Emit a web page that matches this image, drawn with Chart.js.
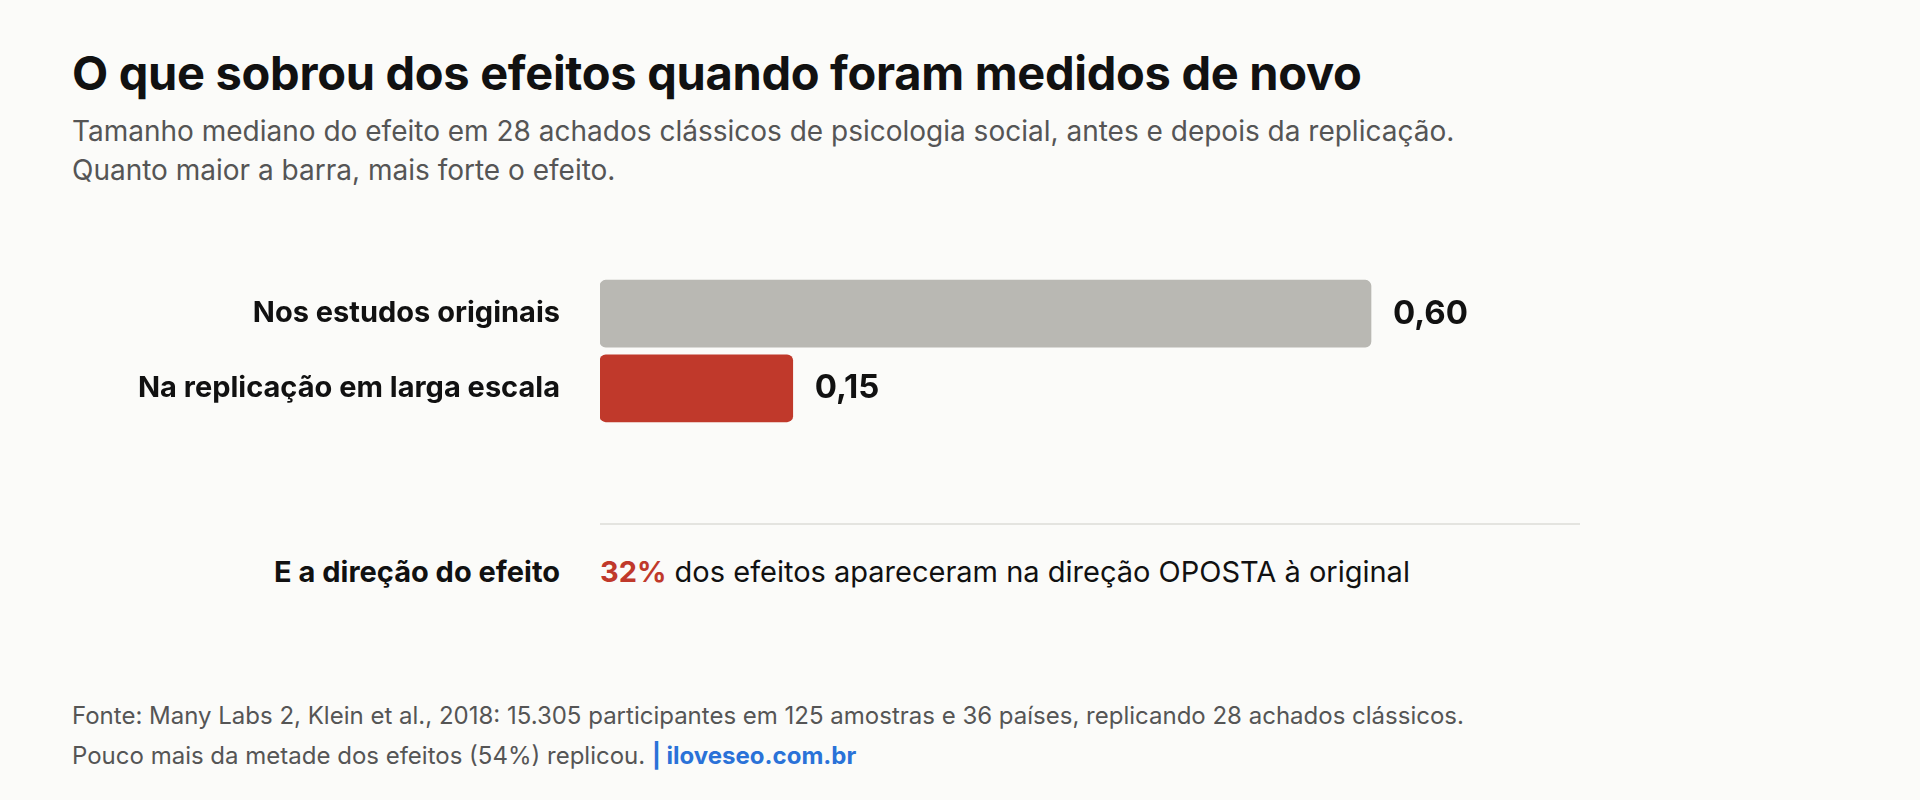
<!DOCTYPE html>
<html lang="pt-BR">
<head>
  <meta charset="UTF-8" />
  <title>O que sobrou dos efeitos</title>
  <script src="https://cdn.jsdelivr.net/npm/chart.js"></script>
  <style>
    body {
      margin: 0;
      background-color: #fbfbf9;
      font-family: Inter, sans-serif;
      width: 1920px;
      height: 800px;
      position: relative;
      overflow: hidden;
    }
    h1 {
      position: absolute;
      left: 72px;
      top: 44px;
      margin: 0;
      font-size: 47px;
      font-weight: 700;
      color: #111;
      letter-spacing: -0.3px;
    }
    .sub {
      position: absolute;
      left: 72px;
      top: 112px;
      font-size: 28px;
      line-height: 39px;
      color: #555;
    }
    #wrap {
      position: absolute;
      left: 0;
      top: 227px;
      width: 1628px;
      height: 248px;
    }
    .sep {
      position: absolute;
      left: 600px;
      top: 523px;
      width: 980px;
      border-top: 2px solid #e4e4e0;
    }
    .dir-label {
      position: absolute;
      right: calc(1920px - 560px);
      top: 554px;
      font-size: 29px;
      font-weight: 700;
      color: #111;
    }
    .dir-text {
      position: absolute;
      left: 600px;
      top: 554px;
      font-size: 29px;
      color: #111;
    }
    .dir-text b { color: #c0392b; }
    .foot {
      position: absolute;
      left: 72px;
      top: 696px;
      font-size: 24px;
      line-height: 40px;
      color: #555;
    }
    .foot b { color: #2a72d8; }
  </style>
</head>
<body>
  <h1>O que sobrou dos efeitos quando foram medidos de novo</h1>
  <div class="sub">Tamanho mediano do efeito em 28 achados clássicos de psicologia social, antes e depois da replicação.<br>Quanto maior a barra, mais forte o efeito.</div>
  <div id="wrap"><canvas id="chart"></canvas></div>
  <div class="sep"></div>
  <div class="dir-label">E a direção do efeito</div>
  <div class="dir-text"><b>32%</b> dos efeitos apareceram na direção OPOSTA à original</div>
  <div class="foot">Fonte: Many Labs 2, Klein et al., 2018: 15.305 participantes em 125 amostras e 36 países, replicando 28 achados clássicos.<br>Pouco mais da metade dos efeitos (54%) replicou. <b>| iloveseo.com.br</b></div>

  <script>
    const categorias = ['Nos estudos originais', 'Na replicação em larga escala'];
    const efeitos = [0.60, 0.15];
    const cores = ['#b9b8b3', '#c0392b'];

    const rotulosValor = {
      id: 'rotulosValor',
      afterDatasetsDraw(chart) {
        const ctx = chart.ctx;
        const meta = chart.getDatasetMeta(0);
        ctx.save();
        ctx.font = '700 33px Inter, sans-serif';
        ctx.fillStyle = '#111';
        ctx.textBaseline = 'middle';
        meta.data.forEach((bar, i) => {
          ctx.fillText(efeitos[i].toFixed(2).replace('.', ','), bar.x + 22, bar.y);
        });
        ctx.restore();
      }
    };

    new Chart(document.getElementById('chart'), {
      type: 'bar',
      data: {
        labels: categorias,
        datasets: [{
          data: efeitos,
          backgroundColor: cores,
          borderRadius: 6,
          borderSkipped: false,
          barThickness: 67
        }]
      },
      options: {
        indexAxis: 'y',
        responsive: true,
        maintainAspectRatio: false,
        animation: false,
        layout: { padding: 0 },
        plugins: { legend: { display: false }, tooltip: { enabled: false } },
        scales: {
          x: { display: false, min: 0, max: 0.8 },
          y: {
            grid: { display: false },
            border: { display: false },
            afterFit: s => { s.width = 600; },
            ticks: {
              padding: 32,
              color: '#111',
              font: { family: 'Inter', size: 29, weight: '700' }
            }
          }
        }
      },
      plugins: [rotulosValor]
    });
  </script>
</body>
</html>
